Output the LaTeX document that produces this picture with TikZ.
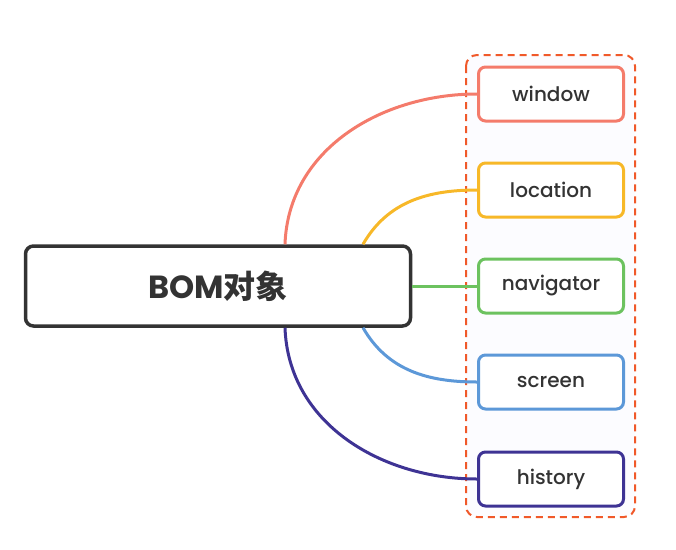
\documentclass[tikz,border=0pt]{standalone}
\usepackage{fontspec}
\setmainfont{Poppins}
\newfontfamily\medfont{Poppins}[UprightFont=* Medium]
\newfontfamily\cjk{Noto Sans CJK SC}
\usepackage{tikz}
\usetikzlibrary{positioning}
\definecolor{textgray}{HTML}{333333}
\definecolor{framered}{HTML}{F0592A}
\definecolor{cwindow}{HTML}{F47B6B}
\definecolor{clocation}{HTML}{F7B828}
\definecolor{cnavigator}{HTML}{6CC25F}
\definecolor{cscreen}{HTML}{5C98D8}
\definecolor{chistory}{HTML}{3E3394}
\tikzset{
  rootbox/.style={
    draw=textgray, line width=3.5pt, rounded corners=8pt, fill=white,
    minimum width=385pt, minimum height=80pt,
    text=textgray, font=\fontsize{32}{36}\selectfont\bfseries
  },
  childbox/.style={
    line width=3pt, rounded corners=7pt, fill=white,
    minimum width=145pt, minimum height=54pt,
    text=textgray, font=\fontsize{20}{24}\selectfont\medfont
  },
  branch/.style={line width=3pt}
}

\begin{document}
\begin{tikzpicture}[x=1pt, y=-1pt]
  \useasboundingbox (0,0) rectangle (676,549);

  % ── dashed frame round the children ─────────────────────────────
  \draw[framered, line width=2pt, dash pattern=on 7pt off 5pt, rounded corners=11pt,
        fill=blue!1]
    (466,55) rectangle (635,517);

  % ── root ────────────────────────────────────────────────────────
  \node[rootbox] (bom) at (218,286) {BOM{\cjk 对象}};

  % ── children ────────────────────────────────────────────────────
  \foreach \nm/\col/\y in {window/cwindow/94, location/clocation/190,
                           navigator/cnavigator/286, screen/cscreen/382,
                           history/chistory/479}
    { \node[childbox, draw=\col] (\nm) at (551,\y) {\nm}; }

  % ── branches ────────────────────────────────────────────────────
  \draw[branch, cwindow]    ([xshift=67pt]bom.north) to[out=88, in=180] (window.west);
  \draw[branch, clocation]  ([xshift=145pt]bom.north) to[out=60, in=180] (location.west);
  \draw[branch, cnavigator] (bom.east) -- (navigator.west);
  \draw[branch, cscreen]    ([xshift=145pt]bom.south) to[out=-60, in=180] (screen.west);
  \draw[branch, chistory]   ([xshift=67pt]bom.south) to[out=-88, in=180] (history.west);
\end{tikzpicture}
\end{document}
